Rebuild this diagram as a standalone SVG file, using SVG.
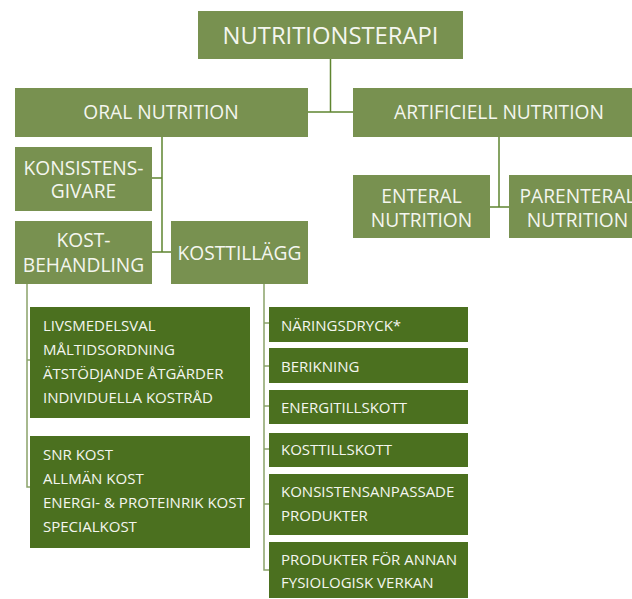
<svg xmlns="http://www.w3.org/2000/svg" width="632" height="599" viewBox="0 0 632 599">
<style>
.l{fill:#789150}
.d{fill:#4b701f}
text{font-family:"Open Sans","Liberation Sans",sans-serif;fill:#f4f6ef}
.t1{font-size:23.8px;text-anchor:middle}
.t2{font-size:19.2px;text-anchor:middle}
.t3{font-size:15px;font-weight:500}
.c{fill:none;stroke:#5f8530;stroke-width:1.5}
.c2{fill:none;stroke:#8aa36a;stroke-width:1.5}
</style>
<rect width="632" height="599" fill="#fff"/>
<g id="connectors">
<path class="c" d="M330.5 59V112M308 112H353"/>
<path class="c" d="M162 137V252M152 178H162M152 252H171"/>
<path class="c" d="M499 137V207M490 207H509"/>
<path class="c2" d="M27 284V487H30M27 360H30"/>
<path class="c2" d="M264 284V570H269M264 323H269M264 366H269M264 406H269M264 449H269M264 504H269"/>
</g>
<g id="n-nutritionsterapi"><rect class="l" x="198" y="11" width="265" height="48"/><text class="t1" x="330.5" y="44">NUTRITIONSTERAPI</text></g>
<g id="n-oral"><rect class="l" x="15" y="88" width="293" height="49"/><text class="t2" x="161" y="119">ORAL NUTRITION</text></g>
<g id="n-artificiell"><rect class="l" x="353" y="88" width="290" height="49"/><text class="t2" x="499" y="119">ARTIFICIELL NUTRITION</text></g>
<g id="n-konsistens"><rect class="l" x="15" y="147" width="137" height="64"/><text class="t2" x="83.5" y="175">KONSISTENS-</text><text class="t2" x="83.5" y="198">GIVARE</text></g>
<g id="n-kostbehandling"><rect class="l" x="15" y="221" width="137" height="63"/><text class="t2" x="83.5" y="247">KOST-</text><text class="t2" x="83.5" y="272">BEHANDLING</text></g>
<g id="n-kosttillagg"><rect class="l" x="171" y="221" width="137" height="63"/><text class="t2" x="239.5" y="260">KOSTTILLÄGG</text></g>
<g id="n-enteral"><rect class="l" x="353" y="175" width="137" height="63"/><text class="t2" x="421.5" y="203">ENTERAL</text><text class="t2" x="421.5" y="227">NUTRITION</text></g>
<g id="n-parenteral"><rect class="l" x="509" y="175" width="137" height="63"/><text class="t2" x="577.5" y="203">PARENTERAL</text><text class="t2" x="577.5" y="227">NUTRITION</text></g>
<g id="n-livsmedel"><rect class="d" x="30" y="307" width="220" height="111"/>
<text class="t3" x="43" y="331">LIVSMEDELSVAL</text>
<text class="t3" x="43" y="355">MÅLTIDSORDNING</text>
<text class="t3" x="43" y="379">ÄTSTÖDJANDE ÅTGÄRDER</text>
<text class="t3" x="43" y="403">INDIVIDUELLA KOSTRÅD</text></g>
<g id="n-snr"><rect class="d" x="30" y="436" width="220" height="112"/>
<text class="t3" x="43" y="460">SNR KOST</text>
<text class="t3" x="43" y="484">ALLMÄN KOST</text>
<text class="t3" x="43" y="508">ENERGI- &amp; PROTEINRIK KOST</text>
<text class="t3" x="43" y="532">SPECIALKOST</text></g>
<g id="n-naringsdryck"><rect class="d" x="269" y="307" width="199" height="35"/><text class="t3" x="281" y="331">NÄRINGSDRYCK*</text></g>
<g id="n-berikning"><rect class="d" x="269" y="348" width="199" height="35"/><text class="t3" x="281" y="372">BERIKNING</text></g>
<g id="n-energitillskott"><rect class="d" x="269" y="390" width="199" height="34"/><text class="t3" x="281" y="413">ENERGITILLSKOTT</text></g>
<g id="n-kosttillskott"><rect class="d" x="269" y="433" width="199" height="34"/><text class="t3" x="281" y="455">KOSTTILLSKOTT</text></g>
<g id="n-konsistensanpassade"><rect class="d" x="269" y="474" width="199" height="61"/><text class="t3" x="281" y="497">KONSISTENSANPASSADE</text><text class="t3" x="281" y="521">PRODUKTER</text></g>
<g id="n-produkter"><rect class="d" x="269" y="542" width="199" height="56"/><text class="t3" x="281" y="565">PRODUKTER FÖR ANNAN</text><text class="t3" x="281" y="588">FYSIOLOGISK VERKAN</text></g>
</svg>
